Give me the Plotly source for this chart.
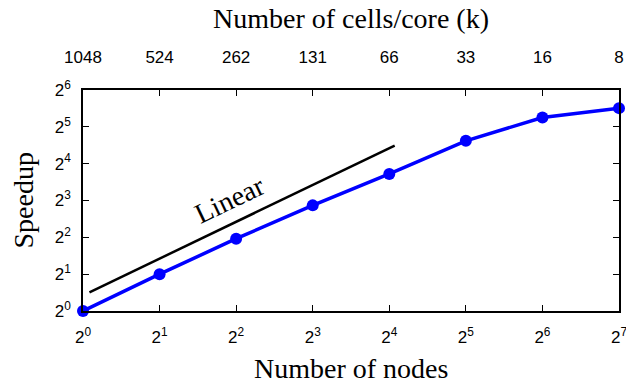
import plotly.graph_objects as go

nodes = [1, 2, 4, 8, 16, 32, 64, 128]
speedup = [1.0, 2.0, 3.9, 7.3, 13.2, 24.6, 38.1, 45.5]
cells_per_core = ["1048", "524", "262", "131", "66", "33", "16", "8"]
linear_x = [1.06, 16.8]
linear_y = [1.42, 22.5]
x_tick_text = ["2<sup>%d</sup>" % i for i in range(8)]
y_tick_vals = [1, 2, 4, 8, 16, 32, 64]
y_tick_text = ["2<sup>%d</sup>" % i for i in range(7)]

fig = go.Figure()
fig.add_trace(go.Scatter(x=linear_x, y=linear_y, mode="lines",
                         line=dict(color="black", width=2.5), showlegend=False))
fig.add_trace(go.Scatter(x=nodes, y=speedup, mode="lines+markers",
                         line=dict(color="#0000ff", width=3.5),
                         marker=dict(color="#0000ff", size=12), showlegend=False,
                         cliponaxis=False))
fig.add_trace(go.Scatter(x=nodes, y=speedup, xaxis="x2", mode="markers",
                         marker=dict(opacity=0), showlegend=False, hoverinfo="skip"))

tickfont = dict(family="Liberation Sans, Arial, sans-serif", size=17, color="black")
serif = "Liberation Serif, Times New Roman, serif"

fig.update_layout(
    width=626, height=386,
    margin=dict(l=83, r=7, t=90, b=75),
    plot_bgcolor="white", paper_bgcolor="white",
    xaxis=dict(type="log", range=[0, 2.10721], tickvals=nodes, ticktext=x_tick_text,
               ticks="inside", ticklen=6, tickcolor="black", showline=True,
               linecolor="black", linewidth=1.5, showgrid=False, zeroline=False,
               tickfont=tickfont, automargin=False, ticklabelstandoff=10,
               ticklabeloverflow="allow"),
    xaxis2=dict(type="log", range=[0, 2.10721], overlaying="x", side="top",
                tickvals=nodes, ticktext=cells_per_core, ticks="inside", ticklen=6,
                tickcolor="black", showline=True, linecolor="black", linewidth=1.5,
                showgrid=False, zeroline=False, tickfont=tickfont, automargin=False,
                ticklabelstandoff=18, ticklabeloverflow="allow"),
    yaxis=dict(type="log", range=[0, 1.80618], tickvals=y_tick_vals, ticktext=y_tick_text,
               ticks="inside", ticklen=6, tickcolor="black", showline=True, mirror="ticks",
               linecolor="black", linewidth=1.5, showgrid=False, zeroline=False,
               tickfont=tickfont, automargin=False, ticklabelstandoff=7),
    annotations=[
        dict(text="Number of nodes", xref="paper", yref="paper", x=0.5, y=0,
             yshift=-57, xanchor="center", yanchor="middle", showarrow=False,
             font=dict(family=serif, size=28, color="black")),
        dict(text="Number of cells/core (k)", xref="paper", yref="paper", x=0.5, y=1,
             yshift=72, xanchor="center", yanchor="middle", showarrow=False,
             font=dict(family=serif, size=28, color="black")),
        dict(text="Speedup", xref="paper", yref="paper", x=0, y=0.5, xshift=-60,
             xanchor="center", yanchor="middle",
             textangle=-90, showarrow=False, font=dict(family=serif, size=28, color="black")),
        dict(text="Linear", x=0.578, y=0.908, xref="x", yref="y", showarrow=False,
             xanchor="center", yanchor="middle",
             textangle=-25.6, font=dict(family=serif, size=28, color="black")),
    ],
)
fig.write_html("out.html")
